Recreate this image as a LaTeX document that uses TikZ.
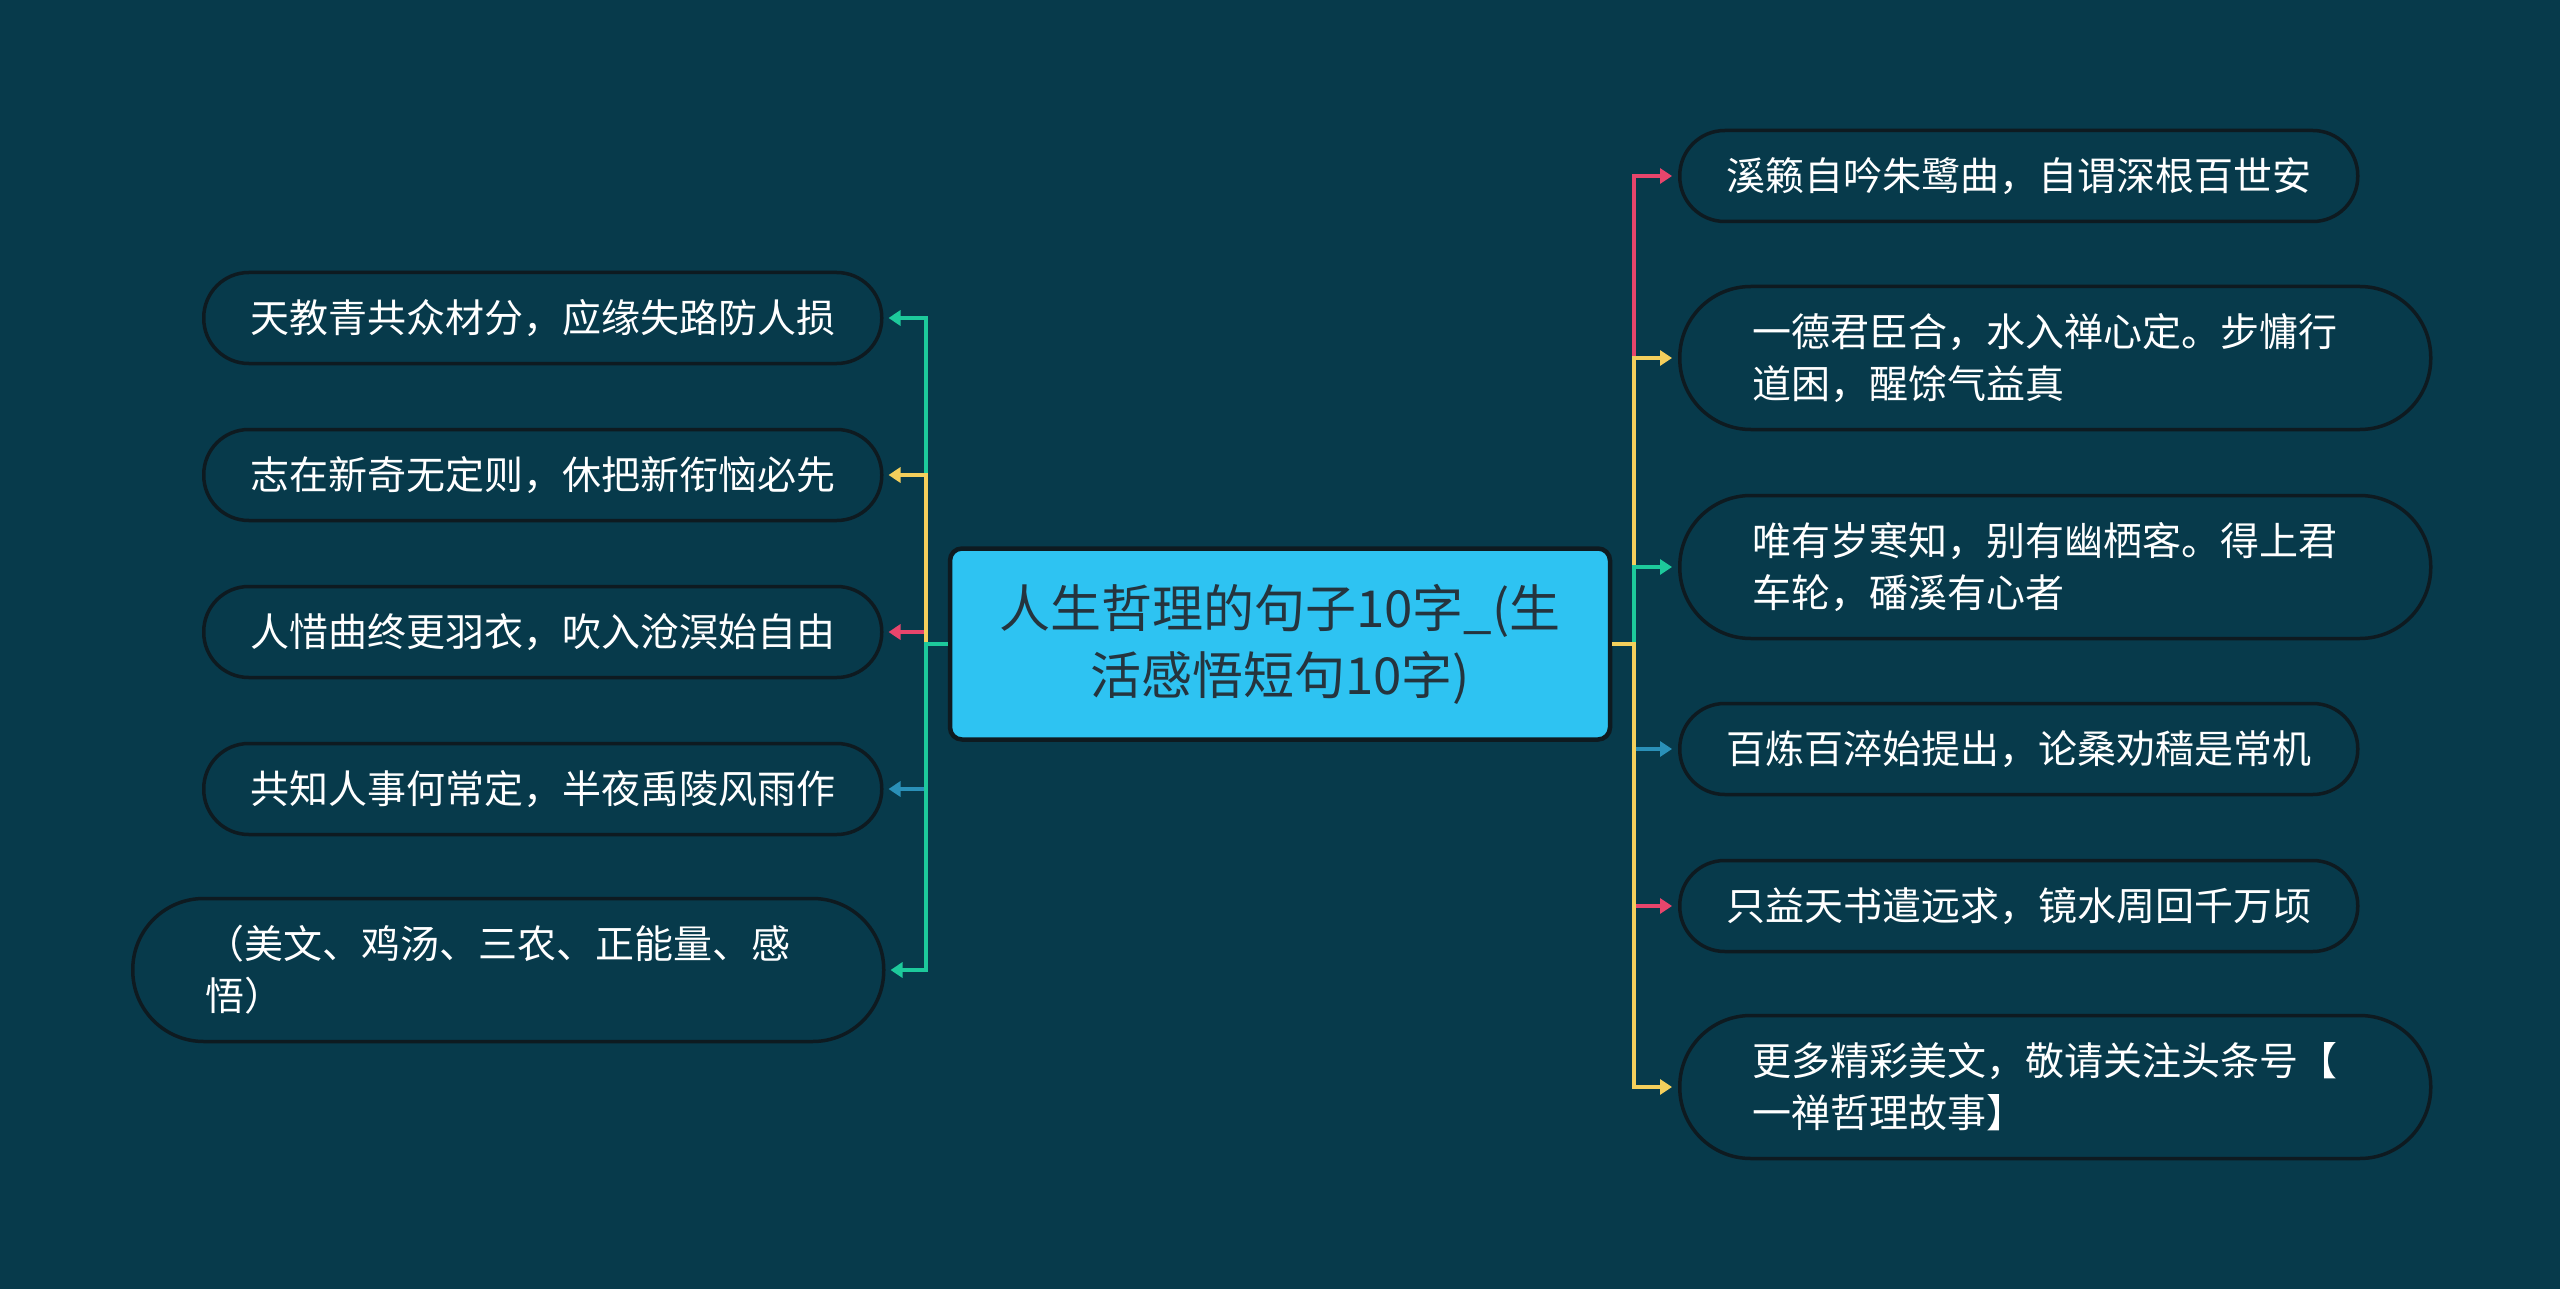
\documentclass[tikz,border=0pt]{standalone}
\usepackage{fontspec}
\setmainfont{Noto Sans CJK SC}
\usetikzlibrary{arrows.meta}
\definecolor{bg}{HTML}{073A4B}
\definecolor{nodeline}{HTML}{0E1A20}
\definecolor{cfill}{HTML}{2EC3F2}
\definecolor{ctext}{HTML}{25343E}
\definecolor{cred}{HTML}{E8456C}
\definecolor{cyel}{HTML}{F4CF5C}
\definecolor{cgrn}{HTML}{1DC99B}
\definecolor{cblu}{HTML}{2A90B8}
\tikzset{
  leaf/.style={draw=nodeline, line width=3.5pt, fill=bg, text=white, anchor=west,
    font=\fontsize{39}{52}\selectfont, align=left, inner ysep=0pt},
  onel/.style={leaf, minimum height=91pt, text width=585pt, inner xsep=46.5pt, rounded corners=45pt},
  twol/.style={leaf, minimum height=143pt, text width=605pt, inner xsep=73pt, rounded corners=71pt},
  conn/.style={line width=3.5pt, -{Triangle[length=12pt,width=15pt]}}
}
\begin{document}
\begin{tikzpicture}[x=1pt,y=-1pt]
\fill[bg] (0,0) rectangle (2560,1289);
\useasboundingbox (0,0) rectangle (2560,1289);

\node[draw=nodeline, fill=cfill, line width=4.5pt, rounded corners=12pt,
  minimum width=660pt, minimum height=191pt, align=center, text=ctext,
  font=\fontsize{51}{67}\selectfont] (c) at (1280,644) {人生哲理的句子10字\_(生\\活感悟短句10字)};

% right
\node[onel] (r1) at (1678,176) {溪籁自吟朱鹭曲，自谓深根百世安};
\node[twol] (r2) at (1678,358) {一德君臣合，水入禅心定。步慵行\\道困，醒馀气益真};
\node[twol] (r3) at (1678,567) {唯有岁寒知，别有幽栖客。得上君\\车轮，磻溪有心者};
\node[onel] (r4) at (1678,749) {百炼百淬始提出，论桑劝穑是常机};
\node[onel] (r5) at (1678,906) {只益天书遣远求，镜水周回千万顷};
\node[twol] (r6) at (1678,1087) {更多精彩美文，敬请关注头条号【\\一禅哲理故事】};

% left
\node[onel] (l1) at (202,318) {天教青共众材分，应缘失路防人损};
\node[onel] (l2) at (202,475) {志在新奇无定则，休把新衔恼必先};
\node[onel] (l3) at (202,632) {人惜曲终更羽衣，吹入沧溟始自由};
\node[onel] (l4) at (202,789) {共知人事何常定，半夜禹陵风雨作};
\node[twol] (l5) at (131,970) {（美文、鸡汤、三农、正能量、感\\悟）};

\coordinate (rt) at (1634,644);
\coordinate (lt) at (926,644);

\draw[conn,cred] (c.east) -- (rt) |- ([xshift=-6pt]r1.west);
\draw[conn,cyel] (c.east) -- (rt) |- ([xshift=-6pt]r2.west);
\draw[conn,cgrn] (c.east) -- (rt) |- ([xshift=-6pt]r3.west);
\draw[conn,cblu] (c.east) -- (rt) |- ([xshift=-6pt]r4.west);
\draw[conn,cred] (c.east) -- (rt) |- ([xshift=-6pt]r5.west);
\draw[conn,cyel] (c.east) -- (rt) |- ([xshift=-6pt]r6.west);

\draw[conn,cgrn] (c.west) -- (lt) |- ([xshift=5pt]l1.east);
\draw[conn,cred] (c.west) -- (lt) |- ([xshift=5pt]l3.east);
\draw[conn,cblu] (c.west) -- (lt) |- ([xshift=5pt]l4.east);
\draw[conn,cyel] (c.west) -- (lt) |- ([xshift=5pt]l2.east);
\draw[conn,cgrn] (c.west) -- (lt) |- ([xshift=5pt]l5.east);
\end{tikzpicture}
\end{document}
